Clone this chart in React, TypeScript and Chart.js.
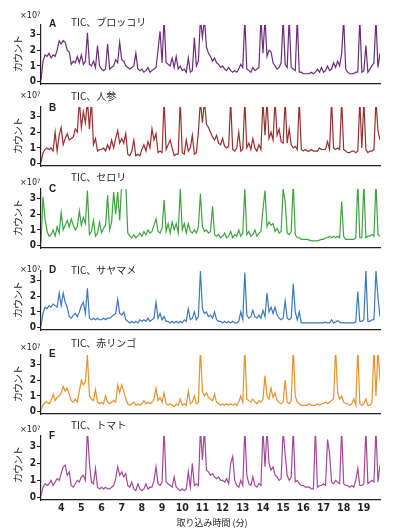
import React, { useEffect, useRef } from 'react';
import { Chart, registerables } from 'chart.js';

Chart.register(...registerables);

// Retention time grid (minutes), sampled every 0.1 min from 3.0 to 19.8
const TIMES: number[] = Array.from({ length: 169 }, (_, i) => Math.round(30 + i) / 10);
const X_TICKS = [4, 5, 6, 7, 8, 9, 10, 11, 12, 13, 14, 15, 16, 17, 18, 19];
const Y_TICKS = [0, 1, 2, 3];

const LETTERS = ['A', 'B', 'C', 'D', 'E', 'F'];
const SAMPLES = ['TIC、ブロッコリ', 'TIC、人参', 'TIC、セロリ', 'TIC、サヤマメ', 'TIC、赤リンゴ', 'TIC、トマト'];

// counts ×10^7 (values above 3.6 run off the top of the panel)
const broccoli = [
  0.1, 1.3, 1.7, 1.6, 1.8, 1.5, 1.7, 1.6, 2.0, 2.6,
  2.4, 2.6, 2.5, 2.0, 1.9, 1.1, 1.3, 1.2, 1.6, 1.2,
  1.7, 1.1, 1.3, 3.1, 1.1, 1.0, 1.3, 0.9, 2.3, 1.0,
  0.8, 0.7, 0.8, 2.4, 0.8, 0.9, 1.0, 1.4, 1.2, 2.5,
  1.4, 1.3, 1.0, 0.9, 0.8, 0.9, 1.0, 1.8, 0.8, 0.7,
  0.8, 0.6, 0.7, 0.9, 0.6, 0.7, 0.8, 0.9, 2.0, 3.2,
  1.2, 4.0, 1.2, 1.1, 1.0, 1.5, 0.9, 1.6, 0.8, 1.0,
  0.7, 0.8, 0.6, 1.5, 0.6, 0.7, 2.8, 1.0, 1.3, 4.0,
  2.8, 4.0, 2.2, 1.8, 1.6, 1.3, 1.5, 1.2, 1.1, 0.9,
  1.0, 0.8, 0.7, 0.9, 0.7, 0.6, 0.7, 0.6, 0.8, 1.1,
  0.9, 4.0, 0.8, 0.7, 0.6, 0.9, 0.7, 0.8, 0.9, 4.0,
  1.8, 4.0, 1.6, 2.0, 1.9, 1.2, 1.0, 0.8, 0.9, 1.2,
  4.0, 1.1, 0.9, 4.0, 0.9, 0.8, 0.7, 4.0, 0.6, 0.6,
  0.5, 0.5, 0.5, 0.5, 0.6, 0.5, 0.6, 0.8, 0.6, 0.9,
  0.6, 0.7, 1.0, 0.7, 0.8, 1.2, 0.9, 1.3, 1.0, 1.8,
  4.0, 0.8, 0.6, 0.5, 0.5, 0.5, 0.6, 0.6, 4.0, 0.6,
  0.7, 2.3, 0.6, 0.8, 1.0, 1.2, 4.0, 0.9, 1.8,
];

const carrot = [
  0.1, 0.7, 0.9, 1.0, 0.9, 1.0, 0.8, 2.0, 0.8, 1.8,
  2.3, 1.2, 1.6, 1.9, 1.5, 1.6, 1.7, 2.2, 2.0, 4.0,
  2.3, 3.3, 2.6, 4.0, 2.2, 4.0, 1.2, 1.6, 0.8, 0.9,
  0.9, 1.0, 0.8, 1.2, 0.9, 1.5, 1.0, 1.6, 2.1, 1.3,
  1.6, 1.3, 1.9, 0.6, 0.5, 0.8, 1.5, 0.5, 0.6, 0.5,
  0.9, 1.2, 0.8, 1.4, 1.0, 2.2, 1.5, 1.9, 0.7, 0.8,
  0.7, 4.0, 0.9, 1.2, 1.5, 1.0, 0.5, 0.6, 0.6, 4.0,
  0.7, 0.6, 1.5, 0.8, 1.0, 1.8, 0.6, 0.7, 2.0, 4.0,
  2.6, 4.0, 2.5, 2.3, 2.0, 1.7, 1.5, 1.8, 1.3, 1.2,
  1.6, 1.1, 1.0, 1.1, 4.0, 0.9, 0.8, 1.0, 2.0, 0.8,
  0.9, 4.0, 1.0, 1.3, 0.9, 1.6, 1.0, 0.8, 1.2, 0.9,
  4.0, 1.8, 4.0, 1.6, 2.0, 1.5, 4.0, 1.8, 2.2, 1.4,
  1.3, 4.0, 1.3, 2.2, 1.2, 1.0, 1.1, 0.9, 4.0, 0.9,
  0.8, 0.9, 0.8, 0.8, 0.9, 0.8, 0.8, 0.8, 1.0, 0.9,
  0.9, 0.9, 1.4, 0.9, 4.0, 1.0, 0.9, 1.0, 0.9, 4.0,
  0.9, 0.8, 0.7, 0.7, 0.8, 0.8, 0.7, 0.8, 4.0, 1.0,
  4.0, 0.9, 0.7, 0.8, 0.8, 0.9, 4.0, 2.1, 1.5,
];

const celery = [
  0.2, 3.1, 1.7, 0.9, 0.6, 0.7, 1.0, 0.6, 1.2, 0.8,
  2.1, 1.0, 1.3, 1.6, 1.2, 1.7, 1.3, 1.0, 1.2, 2.2,
  1.3, 1.8, 1.4, 3.5, 0.7, 0.9, 1.6, 0.6, 0.8, 1.5,
  0.8, 1.1, 1.3, 3.2, 1.0, 1.5, 3.4, 2.0, 3.4, 1.6,
  4.0, 3.8, 4.0, 0.8, 0.6, 0.5, 0.7, 0.5, 0.6, 0.8,
  0.6, 0.9, 0.7, 1.0, 0.8, 0.9, 1.3, 1.7, 0.9, 0.8,
  1.1, 2.9, 0.9, 1.4, 0.8, 1.5, 1.0, 1.4, 0.8, 3.6,
  1.0, 1.4, 0.8, 1.4, 0.9, 0.8, 1.0, 0.8, 1.2, 3.3,
  1.2, 0.9, 1.0, 0.8, 0.9, 2.5, 0.7, 0.6, 0.7, 0.5,
  0.6, 0.8, 0.5, 0.6, 0.9, 0.5, 0.7, 0.6, 1.0, 0.6,
  0.8, 3.6, 0.7, 0.9, 0.6, 0.7, 1.0, 0.6, 0.8, 0.9,
  2.3, 3.5, 1.2, 1.5, 1.3, 1.4, 0.9, 1.1, 0.8, 0.9,
  3.6, 2.8, 0.8, 0.7, 0.9, 4.0, 0.7, 0.5, 0.5, 0.4,
  0.4, 0.4, 0.4, 0.35, 0.3, 0.3, 0.3, 0.3, 0.35, 0.4,
  0.4, 0.5, 0.5, 0.6, 0.5, 0.6, 0.5, 0.6, 0.5, 2.8,
  0.6, 0.4, 0.4, 0.4, 0.4, 0.4, 0.5, 4.0, 0.5, 0.5,
  4.0, 0.5, 0.6, 0.6, 0.7, 0.6, 4.0, 0.7, 0.6,
];

const snapPea = [
  0.1, 0.9, 1.3, 1.2, 1.4, 1.3, 1.5, 1.4, 1.3, 2.2,
  1.4, 2.2, 1.6, 1.3, 0.7, 0.6, 0.8, 0.9, 0.7, 1.0,
  1.4, 1.6, 0.9, 2.5, 0.6, 0.5, 0.6, 0.5, 0.6, 0.5,
  0.5, 0.6, 0.5, 0.6, 0.6, 0.7, 0.8, 0.9, 1.8, 0.9,
  0.8, 1.0, 0.5, 0.4, 0.3, 0.4, 0.3, 0.4, 0.3, 0.5,
  0.4, 0.5, 0.4, 0.6, 0.4, 0.5, 0.6, 1.6, 0.6, 0.9,
  0.5, 0.7, 0.4, 0.4, 0.3, 0.4, 0.3, 0.4, 0.3, 0.4,
  0.3, 0.5, 0.4, 1.2, 0.5, 0.6, 1.0, 0.5, 0.7, 3.6,
  1.2, 0.9, 1.0, 0.7, 0.8, 0.6, 1.0, 0.5, 0.4, 0.4,
  0.3, 0.4, 0.3, 0.4, 0.3, 0.4, 0.3, 0.3, 0.4, 1.0,
  0.5, 3.5, 0.8, 0.6, 0.7, 1.1, 0.7, 0.6, 0.8, 0.6,
  1.1, 0.7, 2.2, 1.0, 1.3, 0.9, 1.3, 0.8, 0.6, 0.5,
  0.6, 1.7, 0.6, 0.5, 0.6, 2.8, 1.0, 0.5, 1.0, 0.3,
  0.3, 0.3, 0.3, 0.3, 0.3, 0.3, 0.3, 0.3, 0.3, 0.3,
  0.3, 0.35, 0.3, 0.3, 0.5, 0.3, 0.35, 0.45, 0.35, 0.3,
  0.3, 0.3, 0.3, 0.3, 0.3, 0.3, 0.35, 2.3, 0.4, 0.4,
  0.5, 3.6, 0.4, 0.4, 0.5, 0.5, 3.6, 1.9, 0.7,
];

const redApple = [
  0.1, 0.4, 0.6, 0.6, 0.5, 0.7, 1.1, 0.7, 0.9, 1.0,
  1.2, 1.6, 1.3, 1.5, 1.1, 0.7, 0.6, 0.8, 0.6, 1.3,
  2.0, 1.7, 1.9, 3.6, 1.0, 0.8, 0.7, 1.4, 0.6, 0.5,
  0.6, 0.5, 1.0, 0.6, 0.5, 0.6, 0.7, 0.6, 1.7, 1.2,
  1.7, 1.3, 0.8, 0.5, 0.4, 0.5, 0.6, 0.4, 0.5, 0.4,
  0.5, 0.7, 0.5, 0.6, 0.5, 0.6, 0.8, 1.5, 0.7, 0.9,
  0.6, 1.2, 0.5, 0.4, 0.5, 0.4, 0.3, 0.5, 0.4, 0.8,
  0.4, 0.5, 0.4, 1.3, 0.5, 0.6, 1.0, 0.5, 0.6, 4.0,
  1.3, 1.0, 1.2, 0.9, 0.8, 0.7, 1.1, 0.6, 0.5, 0.4,
  0.5, 0.4, 0.5, 0.4, 0.5, 0.4, 0.5, 0.4, 0.6, 1.0,
  0.6, 4.0, 0.8, 0.7, 0.6, 0.8, 0.6, 0.5, 0.7, 0.6,
  0.8, 2.3, 1.0, 0.8, 1.5, 0.9, 1.2, 0.7, 0.6, 0.5,
  0.6, 2.0, 0.6, 0.5, 0.7, 4.0, 1.0, 0.6, 0.5, 0.4,
  0.4, 0.4, 0.4, 0.5, 0.4, 0.4, 0.4, 0.5, 0.4, 0.5,
  0.5, 0.6, 0.5, 0.6, 0.7, 0.8, 4.0, 1.2, 0.8, 1.0,
  0.6, 0.5, 0.5, 0.4, 0.5, 0.8, 0.4, 4.0, 0.5, 0.4,
  0.5, 0.8, 0.4, 0.4, 0.6, 4.0, 1.0, 4.0, 2.0,
];

const tomato = [
  0.1, 0.6, 0.8, 0.7, 0.8, 1.0, 0.7, 0.9, 1.1, 1.0,
  1.4, 1.8, 1.9, 1.3, 1.5, 0.7, 0.6, 0.8, 1.0, 0.9,
  1.2, 1.3, 1.0, 4.0, 2.0, 0.9, 0.8, 1.7, 0.6, 0.5,
  0.6, 0.5, 0.6, 0.5, 0.5, 0.6, 0.7, 1.1, 1.8, 1.3,
  1.5, 1.2, 1.4, 0.7, 0.6, 0.9, 0.5, 0.4, 0.8, 0.5,
  0.4, 0.5, 0.8, 0.5, 0.6, 0.6, 1.0, 1.8, 0.8, 0.7,
  0.9, 4.0, 0.9, 0.8, 0.7, 0.6, 1.2, 0.6, 0.5, 0.4,
  0.5, 0.4, 0.5, 1.5, 0.6, 2.0, 0.7, 0.8, 0.7, 4.0,
  2.2, 4.0, 1.6, 1.5, 1.3, 1.4, 1.2, 1.1, 1.2, 1.0,
  1.0, 0.9, 1.1, 0.8, 2.0, 2.4, 1.0, 0.7, 0.6, 1.0,
  0.7, 4.0, 1.3, 0.8, 0.7, 1.2, 0.7, 0.6, 0.8, 0.7,
  4.0, 1.8, 4.0, 2.0, 1.6, 1.8, 1.3, 1.2, 1.0, 1.1,
  4.0, 2.5, 1.3, 1.0, 1.2, 4.0, 0.9, 1.0, 0.8, 0.7,
  0.7, 0.6, 0.6, 0.6, 0.5, 0.5, 4.0, 0.6, 0.7, 0.7,
  0.8, 0.7, 3.4, 2.6, 0.9, 0.8, 1.0, 0.9, 0.8, 4.0,
  0.8, 0.7, 0.7, 0.6, 0.7, 0.6, 1.0, 1.7, 0.7, 0.7,
  0.8, 4.0, 0.8, 0.9, 1.0, 0.9, 4.0, 0.9, 1.9,
];

const SERIES = [broccoli, carrot, celery, snapPea, redApple, tomato];
const COLORS = ['#6c2c7c', '#9a2f2f', '#3fa33f', '#3a78bf', '#e8912e', '#a5489d'];

// layout (page pixels): zero line, title, multiplier and letter vertical centres
const ZERO_Y = [86, 168, 250, 332, 416, 497];
const TITLE_Y = [22, 96, 177, 270, 343, 425];
const EXP_Y = [15, 95, 182, 269, 347, 429];
const LETTER_Y = [24, 108, 189, 270, 354, 436];

const NUM_FONT = "'Liberation Sans Narrow', 'DejaVu Sans Condensed', 'Liberation Sans', Arial, sans-serif";
const JP_FONT = "'Noto Sans CJK JP', 'Noto Sans', sans-serif";
const INK = '#231f20';

function Panel({ values, color, top, last }: { values: number[]; color: string; top: number; last: boolean }) {
  const ref = useRef<HTMLCanvasElement>(null);
  const height = last ? 91 : 73;
  useEffect(() => {
    const chart = new Chart(ref.current!, {
      type: 'line',
      data: {
        datasets: [
          {
            data: TIMES.map((t, i) => ({ x: t, y: values[i] })),
            borderColor: color,
            borderWidth: 1.2,
            pointRadius: 0,
            tension: 0,
            fill: false,
          },
        ],
      },
      options: {
        animation: false,
        responsive: false,
        maintainAspectRatio: false,
        events: [],
        layout: { padding: { top: 3, right: 30, bottom: last ? 0 : 2, left: 0 } },
        plugins: { legend: { display: false }, tooltip: { enabled: false }, title: { display: false } },
        scales: {
          x: {
            type: 'linear',
            min: 3,
            max: 19.8,
            afterBuildTicks: (s: any) => {
              s.ticks = X_TICKS.map((v) => ({ value: v }));
            },
            ticks: {
              display: last,
              autoSkip: false,
              maxRotation: 0,
              padding: 2,
              color: INK,
              font: { family: NUM_FONT, size: 10.5, weight: 'bold' },
            },
            grid: { drawOnChartArea: false, drawTicks: false, color: INK },
            border: { color: INK, width: 1.2 },
            afterFit: (s: any) => {
              s.height = last ? 20 : 0;
            },
          },
          y: {
            min: -0.15,
            max: 3.6,
            afterBuildTicks: (s: any) => {
              s.ticks = Y_TICKS.map((v) => ({ value: v }));
            },
            ticks: {
              padding: 1,
              color: INK,
              font: { family: NUM_FONT, size: 10, weight: 'bold' },
            },
            grid: { drawOnChartArea: false, drawTicks: true, tickLength: 4, color: INK },
            border: { color: INK, width: 1.2 },
            afterFit: (s: any) => {
              s.width = 41;
            },
          },
        },
      } as any,
    });
    return () => chart.destroy();
  }, []);
  return (
    <canvas
      ref={ref}
      width={410}
      height={height}
      style={{ position: 'absolute', left: 0, top, width: 410, height, display: 'block' }}
    />
  );
}

function Txt({ x, y, style, children }: { x: number; y: number; style?: React.CSSProperties; children: React.ReactNode }) {
  return (
    <div
      style={{
        position: 'absolute',
        left: x,
        top: y,
        transform: 'translateY(-50%)',
        whiteSpace: 'nowrap',
        lineHeight: 1,
        color: INK,
        ...style,
      }}
    >
      {children}
    </div>
  );
}

export default function App() {
  return (
    <div style={{ position: 'fixed', left: 0, top: 0, width: 410, height: 530, background: '#fff', overflow: 'hidden' }}>
      {SERIES.map((vals, i) => (
        <Panel key={i} values={vals} color={COLORS[i]} top={ZERO_Y[i] - 68} last={i === SERIES.length - 1} />
      ))}
      {SERIES.map((_, i) => (
        <React.Fragment key={'t' + i}>
          <Txt x={20} y={EXP_Y[i]} style={{ fontFamily: NUM_FONT, fontSize: 9 }}>
            ×10<sup style={{ fontSize: 6, verticalAlign: 'top', lineHeight: 1 }}>7</sup>
          </Txt>
          <Txt x={49} y={LETTER_Y[i]} style={{ fontFamily: "'Liberation Sans', Arial, sans-serif", fontSize: 10, fontWeight: 'bold' }}>
            {LETTERS[i]}
          </Txt>
          <Txt x={71} y={TITLE_Y[i]} style={{ fontFamily: JP_FONT, fontSize: 10 }}>
            {SAMPLES[i]}
          </Txt>
          <div
            style={{
              position: 'absolute',
              left: 18,
              top: ZERO_Y[i] - 32,
              transform: 'translate(-50%, -50%) rotate(-90deg)',
              whiteSpace: 'nowrap',
              lineHeight: 1,
              fontFamily: JP_FONT,
              fontSize: 10,
              letterSpacing: -1,
              color: INK,
            }}
          >
            カウント
          </div>
        </React.Fragment>
      ))}
      <div
        style={{
          position: 'absolute',
          left: 212,
          top: 522,
          transform: 'translate(-50%, -50%)',
          whiteSpace: 'nowrap',
          lineHeight: 1,
          fontFamily: JP_FONT,
          fontSize: 9,
          color: INK,
        }}
      >
        取り込み時間 (分)
      </div>
    </div>
  );
}
